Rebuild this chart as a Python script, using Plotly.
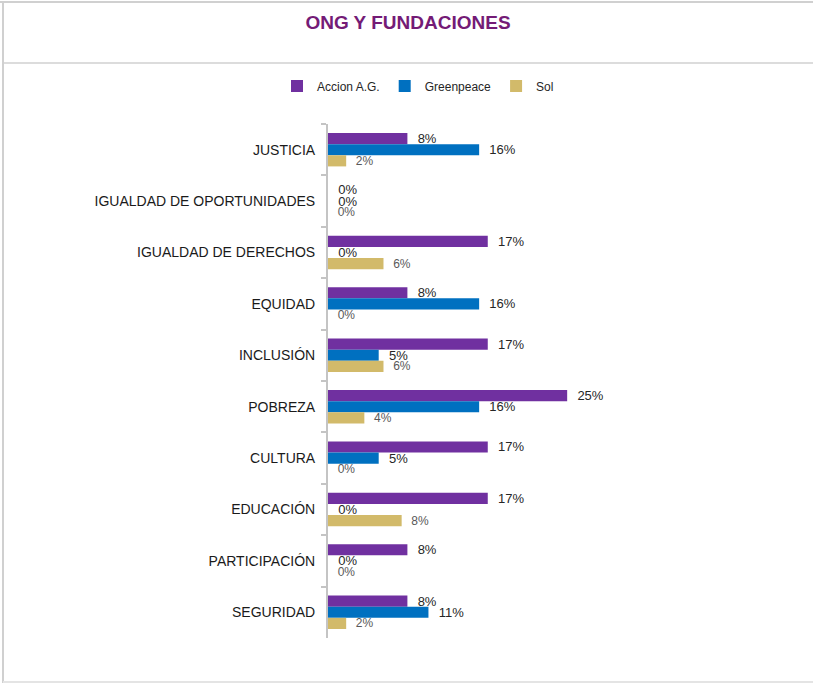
import plotly.graph_objects as go

W, H = 813, 683

categorias = ["JUSTICIA", "IGUALDAD DE OPORTUNIDADES", "IGUALDAD DE DERECHOS",
              "EQUIDAD", "INCLUSIÓN", "POBREZA", "CULTURA", "EDUCACIÓN",
              "PARTICIPACIÓN", "SEGURIDAD"]

accion = [0.083, 0.0, 0.167, 0.083, 0.167, 0.25, 0.167, 0.167, 0.083, 0.083]
greenpeace = [0.158, 0.0, 0.0, 0.158, 0.053, 0.158, 0.053, 0.0, 0.0, 0.105]
sol = [0.019, 0.0, 0.058, 0.0, 0.058, 0.038, 0.0, 0.077, 0.0, 0.019]

series = [
    ("Accion A.G.", accion, "#7030A0", 13, "#262626"),
    ("Greenpeace", greenpeace, "#0070C0", 13, "#262626"),
    ("Sol", sol, "#D2BA6A", 12, "#595959"),
]

# plot area in pixels
L, R, T, B = 328, 615, 124, 638

fig = go.Figure()
for name, vals, color, fsize, fcolor in series:
    fig.add_trace(go.Bar(
        y=categorias, x=vals, name=name, orientation="h",
        marker=dict(color=color, line=dict(width=0)),
        texttemplate="\u00a0\u00a0%{x:.0%}", textposition="outside",
        textfont=dict(size=fsize, color=fcolor, family="Liberation Sans, Arial, sans-serif"),
        constraintext="none", cliponaxis=False, hoverinfo="skip",
    ))


def px_x(p):
    return (p - L) / (R - L)


def px_y(p):
    return (B - p) / (B - T)


border = "#D0D0D0"
shapes = [
    dict(type="line", xref="paper", yref="paper", x0=px_x(0), x1=px_x(W),
         y0=px_y(2), y1=px_y(2), line=dict(color=border, width=2)),
    dict(type="line", xref="paper", yref="paper", x0=px_x(3), x1=px_x(3),
         y0=px_y(2), y1=px_y(H), line=dict(color=border, width=2)),
    dict(type="line", xref="paper", yref="paper", x0=px_x(3), x1=px_x(W),
         y0=px_y(63), y1=px_y(63), line=dict(color=border, width=1.5)),
    dict(type="line", xref="paper", yref="paper", x0=px_x(3), x1=px_x(W),
         y0=px_y(682), y1=px_y(682), line=dict(color="#E4E4E4", width=2)),
]

fig.update_layout(
    width=W, height=H,
    margin=dict(l=L, r=W - R, t=T, b=H - B, autoexpand=False),
    paper_bgcolor="white", plot_bgcolor="white",
    font=dict(family="Liberation Sans, Arial, sans-serif", color="#262626"),
    barmode="group", bargap=0.35, bargroupgap=0,
    title=dict(text="<b>ONG Y FUNDACIONES</b>", xref="container", x=408 / W,
               xanchor="center", yref="container", y=1 - 22 / H, yanchor="middle",
               font=dict(size=19, color="#741B76")),
    legend=dict(orientation="h", xref="container", x=418 / W, xanchor="center",
                yref="container", y=1 - 86 / H, yanchor="middle",
                font=dict(size=12, color="#262626"), itemwidth=30,
                traceorder="normal"),
    xaxis=dict(range=[0, 0.30], visible=False, fixedrange=True),
    yaxis=dict(autorange="reversed", showline=True, linecolor="#C4C4C4", linewidth=2,
               ticks="outside", ticklen=5, tickcolor="#C4C4C4", tickwidth=2,
               tickson="boundaries", showgrid=False, ticklabelstandoff=8,
               fixedrange=True, tickfont=dict(size=14, color="#1A1A1A")),
    shapes=shapes,
)

fig.write_html("out.html", config={"displayModeBar": False},
               post_script="document.body.style.margin='0';")
